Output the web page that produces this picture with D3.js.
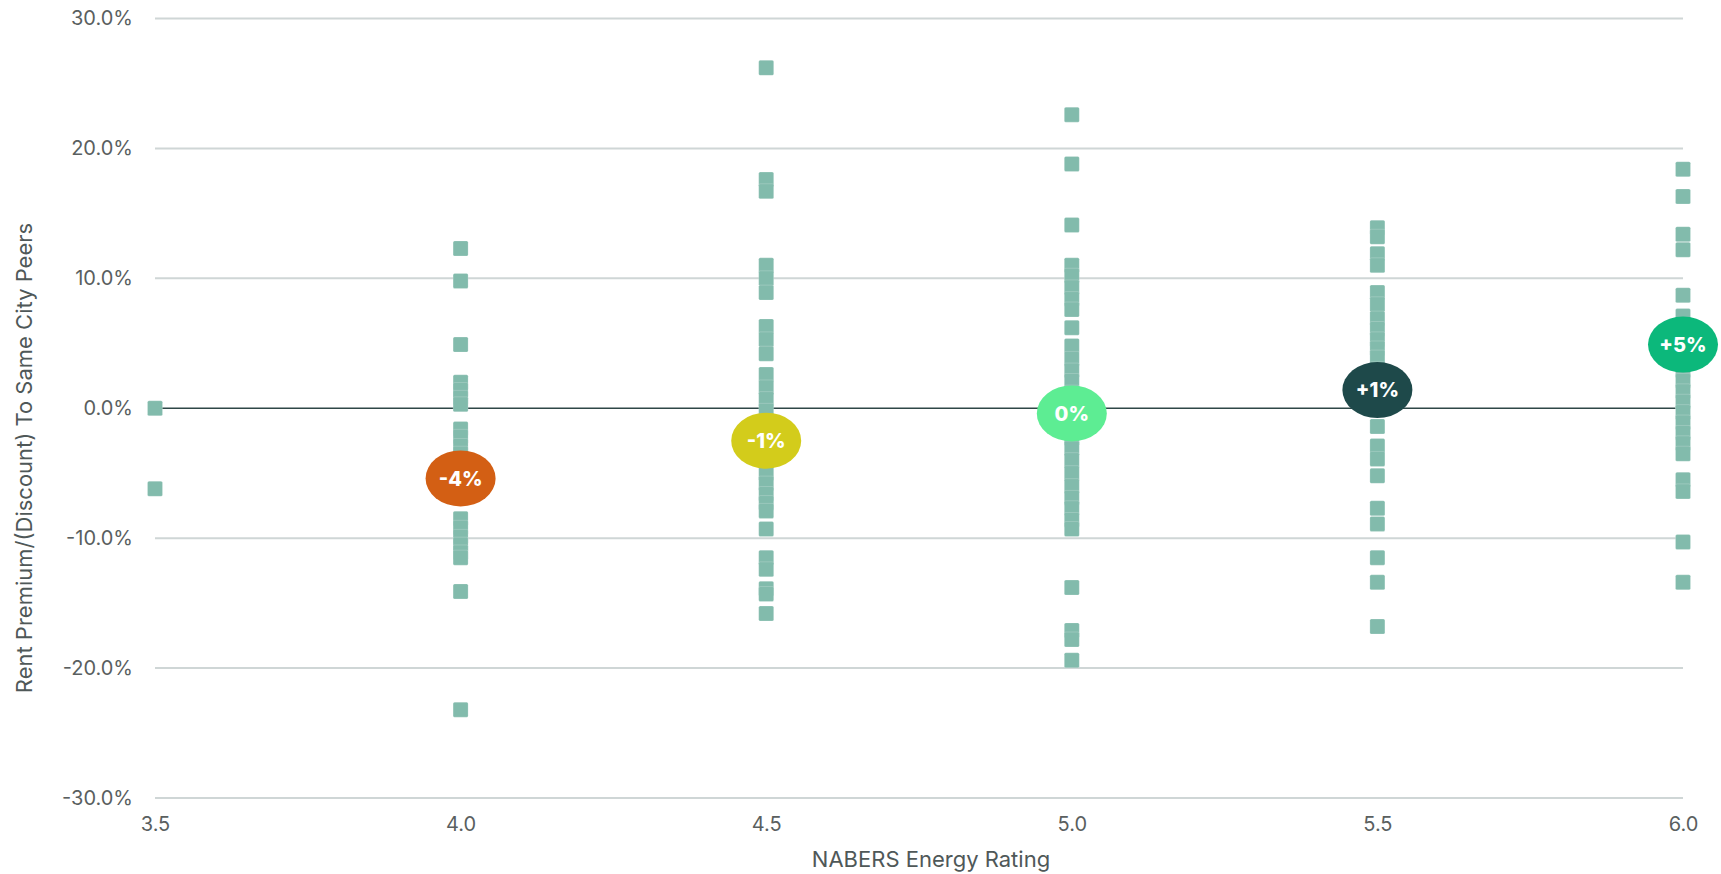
<!DOCTYPE html>
<html><head><meta charset="utf-8">
<script src="https://cdn.jsdelivr.net/npm/d3@7"></script>
<style>
html,body{margin:0;padding:0;background:#fff;}
svg{display:block;font-family:Inter,"Noto Sans",sans-serif;}
</style></head>
<body>
<svg id="chart" width="1721" height="874"></svg>
<script>
// ---- data ----
const ratings = [3.5, 4.0, 4.5, 5.0, 5.5, 6.0];
const pts35 = [0.0, -6.2];
const pts40 = [12.3, 9.8, 4.9, 2.0, 1.4, 0.8, 0.3, -1.6, -2.2, -2.9, -3.5, -4.2, -5.0, -5.8, -6.6, -8.5, -9.2, -9.9, -10.5, -11.1, -11.5, -14.1, -23.2];
const pts45 = [26.2, 17.6, 16.7, 11.0, 10.0, 8.9, 6.3, 5.3, 4.2, 2.6, 1.6, 0.7, -0.2, -1.0, -2.0, -3.0, -4.0, -5.0, -5.8, -6.6, -7.3, -7.9, -9.3, -11.5, -12.4, -13.9, -14.3, -15.8];
const pts50 = [22.6, 18.8, 14.1, 11.0, 10.2, 9.3, 8.4, 7.6, 6.2, 4.8, 3.8, 2.9, 2.1, 1.2, 0.3, -0.6, -1.5, -2.3, -3.1, -4.0, -5.0, -6.0, -6.9, -7.7, -8.6, -9.3, -13.8, -17.1, -17.8, -19.4];
const pts55 = [13.9, 13.2, 11.9, 11.0, 8.9, 8.0, 6.9, 6.1, 5.3, 4.6, 3.9, 3.0, 2.0, 1.0, 0.0, -1.4, -2.9, -3.9, -5.2, -7.7, -8.9, -11.5, -13.4, -16.8];
const pts60 = [18.4, 16.3, 13.4, 12.2, 8.7, 7.1, 6.0, 5.0, 4.0, 2.9, 2.1, 1.3, 0.5, -0.3, -1.1, -1.9, -2.7, -3.5, -5.5, -6.4, -10.3, -13.4];
const seriesPoints = [pts35, pts40, pts45, pts50, pts55, pts60];

const avgRatings = [4.0, 4.5, 5.0, 5.5, 6.0];
const avgValues = [-5.4, -2.5, -0.4, 1.4, 4.9];
const avgLabels = ["-4%", "-1%", "0%", "+1%", "+5%"];
const avgColors = ["#d35f14", "#d3cc1b", "#5ded93", "#1e494a", "#0cb87b"];

const xTicks = [3.5, 4.0, 4.5, 5.0, 5.5, 6.0];
const yTicks = [-30, -20, -10, 0, 10, 20, 30];
const xTitle = "NABERS Energy Rating";
const yTitle = "Rent Premium/(Discount) To Same City Peers";

// ---- drawing ----
const svg = d3.select("#chart");
const x = d3.scaleLinear().domain([3.5, 6.0]).range([155, 1683]);
const y = d3.scaleLinear().domain([-30, 30]).range([798, 18.5]);
const fmtY = d => d3.format(".1f")(d).replace("\u2212", "-") + "%";

// gridlines
svg.append("g").selectAll("line").data(yTicks.filter(d => d !== 0)).join("line")
  .attr("x1", x(3.5)).attr("x2", x(6.0))
  .attr("y1", d => y(d)).attr("y2", d => y(d))
  .attr("stroke", "#cfd6d6").attr("stroke-width", 2);

// zero line
svg.append("line")
  .attr("x1", x(3.5)).attr("x2", x(6.0))
  .attr("y1", y(0)).attr("y2", y(0))
  .attr("stroke", "#2e4747").attr("stroke-width", 1.5);

// y-axis labels
const yAxis = d3.axisLeft(y).tickValues(yTicks).tickFormat(fmtY).tickSize(0).tickPadding(0);
const gy = svg.append("g").attr("transform", "translate(133,0)").call(yAxis);
gy.select(".domain").remove();
gy.selectAll("text").attr("font-size", 20).attr("fill", "#5a5f5f").attr("font-family", "Inter, sans-serif");

// x-axis labels
const xAxis = d3.axisBottom(x).tickValues(xTicks).tickFormat(d3.format(".1f")).tickSize(0).tickPadding(0);
const gx = svg.append("g").attr("transform", "translate(0,817)").call(xAxis);
gx.select(".domain").remove();
gx.selectAll("text").attr("font-size", 20).attr("fill", "#5a5f5f").attr("font-family", "Inter, sans-serif");

// axis titles
svg.append("text").attr("x", 931).attr("y", 867).attr("text-anchor", "middle")
  .attr("font-size", 22).attr("fill", "#4f5858").text(xTitle);
svg.append("text").attr("transform", "translate(32,458) rotate(-90)").attr("text-anchor", "middle")
  .attr("font-size", 22).attr("fill", "#4f5858").text(yTitle);

// points
const sz = 15;
const flat = [];
seriesPoints.forEach((arr, i) => arr.forEach(v => flat.push({r: ratings[i], v})));
svg.append("g").selectAll("rect").data(flat).join("rect")
  .attr("x", d => x(d.r) - sz / 2).attr("y", d => y(d.v) - sz / 2)
  .attr("width", sz).attr("height", sz).attr("rx", 1.5)
  .attr("fill", "#82bbac").attr("stroke", "#ffffff").attr("stroke-opacity", 0.4).attr("stroke-width", 0.5);

// average bubbles
const avg = avgRatings.map((r, i) => ({r, v: avgValues[i], label: avgLabels[i], color: avgColors[i]}));
const bg = svg.append("g").selectAll("g").data(avg).join("g")
  .attr("transform", d => `translate(${x(d.r)},${y(d.v)})`);
bg.append("ellipse").attr("rx", 35).attr("ry", 28).attr("fill", d => d.color);
bg.append("text").attr("text-anchor", "middle").attr("dy", "0.36em")
  .attr("font-size", 20).attr("font-weight", 800).attr("fill", "#ffffff").text(d => d.label);
</script>
</body></html>
